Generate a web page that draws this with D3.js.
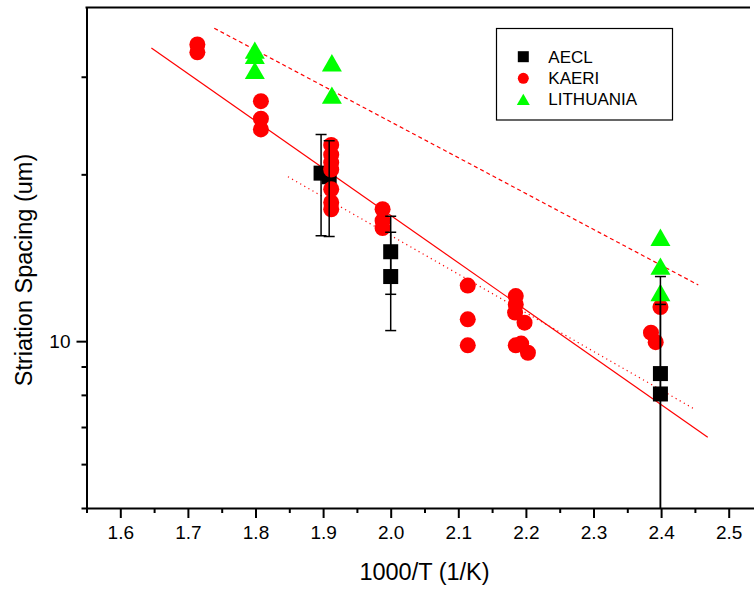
<!DOCTYPE html>
<html>
<head>
<meta charset="utf-8">
<script src="https://cdn.jsdelivr.net/npm/d3@7"></script>
<style>
  body { margin: 0; background: #fff; }
  svg { display: block; font-family: "Liberation Sans", Arial, sans-serif; }
  .axis path, .axis line { stroke: #000; stroke-width: 2px; }
  .axis text { font-size: 19px; fill: #000; font-family: "Liberation Sans", Arial, sans-serif; }
</style>
</head>
<body>
<div id="chart"></div>
<script>
// AECL (squares with error bars)
var aeclX  = [1.897, 1.909, 2.0, 2.0, 2.399, 2.399];
var aeclY  = [20.1, 19.8, 14.5, 13.08, 8.74, 8.03];
var aeclLo = [15.5, 15.45, 12.15, 10.45, 4.4, 4.41];
var aeclHi = [23.6, 23.0, 16.8, 15.72, 13.08, 11.65];

// KAERI (circles)
var kaeriX = [1.714, 1.714, 1.808, 1.808, 1.808,
              1.912, 1.912, 1.912, 1.912, 1.912, 1.912, 1.912,
              1.988, 1.988, 1.988,
              2.114, 2.114, 2.114,
              2.185, 2.185, 2.184, 2.198, 2.185, 2.193, 2.203,
              2.385, 2.392, 2.399];
var kaeriY = [34.3, 33.2, 27.1, 25.2, 24.1,
              22.6, 21.7, 21.0, 20.4, 18.8, 17.8, 17.3,
              17.3, 16.5, 16.0,
              12.6, 10.95, 9.83,
              12.06, 11.65, 11.26, 10.8, 9.83, 9.9, 9.53,
              10.36, 9.96, 11.52];

// LITHUANIA (triangles)
var lithX = [1.799, 1.799, 1.799, 1.913, 1.913, 2.399, 2.399, 2.399];
var lithY = [33.5, 32.8, 30.8, 31.8, 27.8, 15.4, 13.66, 12.24];

// fit lines (end points)
var fitSolidX  = [1.646, 2.469], fitSolidY  = [33.8, 6.71];
var fitDashedX = [1.739, 2.455], fitDashedY = [36.7, 12.63];
var fitDottedX = [1.848, 2.447], fitDottedY = [19.8, 7.57];

var xMajor = [1.6, 1.7, 1.8, 1.9, 2.0, 2.1, 2.2, 2.3, 2.4, 2.5];
var xMinor = [1.55, 1.65, 1.75, 1.85, 1.95, 2.05, 2.15, 2.25, 2.35, 2.45];
var yMajor = [10];
var yMinor = [5, 6, 7, 8, 9, 20, 30];

var legendNames = ["AECL", "KAERI", "LITHUANIA"];

var W = 754, H = 590;
var plotLeft = 86.5, plotTop = 7.5, plotBottom = 508;

var svg = d3.select("#chart").append("svg").attr("width", W).attr("height", H);

var x = d3.scaleLinear().domain([1.55, 2.54]).range([plotLeft, plotLeft + 0.99 * 676]);
var y = d3.scaleLog().domain([5, 40]).range([plotBottom, plotTop]);

svg.append("clipPath").attr("id", "clip")
  .append("rect").attr("x", plotLeft).attr("y", plotTop)
  .attr("width", W - plotLeft).attr("height", plotBottom - plotTop);

// axes
svg.append("g").attr("class", "axis")
  .attr("transform", "translate(0," + plotBottom + ")")
  .call(d3.axisBottom(x).tickValues(xMajor).tickSize(10).tickSizeOuter(0)
    .tickPadding(8).tickFormat(d3.format(".1f")));
svg.append("g").attr("class", "axis")
  .attr("transform", "translate(0," + plotBottom + ")")
  .call(d3.axisBottom(x).tickValues(xMinor).tickSize(5).tickSizeOuter(0).tickFormat(""))
  .select(".domain").remove();

svg.append("g").attr("class", "axis")
  .attr("transform", "translate(" + plotLeft + ",0)")
  .call(d3.axisLeft(y).tickValues(yMajor).tickSize(10).tickSizeOuter(0)
    .tickPadding(6).tickFormat(d3.format("d")));
svg.append("g").attr("class", "axis")
  .attr("transform", "translate(" + plotLeft + ",0)")
  .call(d3.axisLeft(y).tickValues(yMinor).tickSize(5).tickSizeOuter(0).tickFormat(""))
  .select(".domain").remove();

// top border
svg.append("line").attr("x1", plotLeft - 1).attr("x2", 750).attr("y1", plotTop).attr("y2", plotTop)
  .attr("stroke", "#000").attr("stroke-width", 2);

// axis titles
svg.append("text").attr("x", 424.5).attr("y", 580)
  .attr("text-anchor", "middle").style("font-size", "23.5px")
  .text("1000/T (1/K)");
svg.append("text")
  .attr("transform", "translate(32,270) rotate(-90)")
  .attr("text-anchor", "middle").style("font-size", "23.5px")
  .text("Striation Spacing (um)");

var plot = svg.append("g").attr("clip-path", "url(#clip)");

var line = d3.line().x(d => x(d[0])).y(d => y(d[1]));
function pts(xs, ys) { return xs.map((v, i) => [v, ys[i]]); }

plot.append("path").attr("d", line(pts(fitSolidX, fitSolidY)))
  .attr("fill", "none").attr("stroke", "#ff0000").attr("stroke-width", 1.2);
plot.append("path").attr("d", line(pts(fitDashedX, fitDashedY)))
  .attr("fill", "none").attr("stroke", "#ff0000").attr("stroke-width", 1.2)
  .attr("stroke-dasharray", "4,3");
plot.append("path").attr("d", line(pts(fitDottedX, fitDottedY)))
  .attr("fill", "none").attr("stroke", "#ff0000").attr("stroke-width", 1.2)
  .attr("stroke-dasharray", "1.2,3.5");

function triPath(cx, cy, s) {
  var h = s * Math.sqrt(3) / 2;
  return "M" + cx + "," + (cy - h / 2) + "L" + (cx + s / 2) + "," + (cy + h / 2) +
    "L" + (cx - s / 2) + "," + (cy + h / 2) + "Z";
}

// squares
plot.selectAll("rect.aecl").data(pts(aeclX, aeclY)).join("rect")
  .attr("class", "aecl")
  .attr("x", d => x(d[0]) - 7.5).attr("y", d => y(d[1]) - 7.5)
  .attr("width", 15).attr("height", 15).attr("fill", "#000");

// circles
plot.selectAll("circle.kaeri").data(pts(kaeriX, kaeriY)).join("circle")
  .attr("class", "kaeri")
  .attr("cx", d => x(d[0])).attr("cy", d => y(d[1])).attr("r", 8)
  .attr("fill", "#ff0000");

// triangles
plot.selectAll("path.lith").data(pts(lithX, lithY)).join("path")
  .attr("class", "lith")
  .attr("d", d => triPath(x(d[0]), y(d[1]), 20))
  .attr("fill", "#00ff00");

// error bars
var eb = plot.selectAll("g.err").data(aeclX.map((v, i) => i)).join("g").attr("class", "err")
  .attr("stroke", "#000").attr("stroke-width", 1.5);
eb.append("line")
  .attr("x1", i => x(aeclX[i])).attr("x2", i => x(aeclX[i]))
  .attr("y1", i => y(Math.max(aeclLo[i], 4.5))).attr("y2", i => y(aeclHi[i]));
eb.append("line")
  .attr("x1", i => x(aeclX[i]) - 5.5).attr("x2", i => x(aeclX[i]) + 5.5)
  .attr("y1", i => y(aeclHi[i])).attr("y2", i => y(aeclHi[i]));
eb.filter(i => aeclLo[i] >= 5).append("line")
  .attr("x1", i => x(aeclX[i]) - 5.5).attr("x2", i => x(aeclX[i]) + 5.5)
  .attr("y1", i => y(aeclLo[i])).attr("y2", i => y(aeclLo[i]));

// legend
var lg = svg.append("g");
lg.append("rect").attr("x", 496.5).attr("y", 28.5).attr("width", 176).attr("height", 91.5)
  .attr("fill", "#fff").attr("stroke", "#000").attr("stroke-width", 1.2);
var rowY = [56.7, 78.3, 99.3];
lg.append("rect").attr("x", 523.3 - 5.5).attr("y", rowY[0] - 5.5)
  .attr("width", 11).attr("height", 11).attr("fill", "#000");
lg.append("circle").attr("cx", 523.3).attr("cy", rowY[1]).attr("r", 5.5).attr("fill", "#ff0000");
lg.append("path").attr("d", triPath(523.3, rowY[2], 13)).attr("fill", "#00ff00");
lg.selectAll("text").data(legendNames).join("text")
  .attr("x", 548.3).attr("y", (d, i) => rowY[i]).attr("dy", "0.35em")
  .style("font-size", "17px").text(d => d);
</script>
</body>
</html>
